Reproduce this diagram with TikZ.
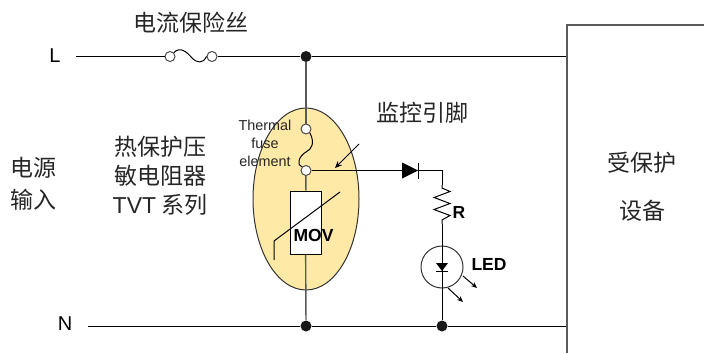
\documentclass[tikz,border=0pt]{standalone}
\usepackage{fontspec}
\setmainfont{Liberation Sans}
\newfontfamily\cjk{Noto Sans CJK SC}
\usepackage{tikz}
\usetikzlibrary{arrows.meta}
\definecolor{bodyyellow}{RGB}{255,233,166}
\begin{document}
\begin{tikzpicture}[x=1pt,y=-1pt,line width=1pt]
    \tikzstyle{junction}=[circle,fill=black!90,minimum size=11pt,inner sep=0pt]
    \tikzstyle{terminal}=[circle,draw=black!70,fill=white,minimum size=10pt,inner sep=0pt]
    \tikzstyle{wire}=[draw=black!65,line width=1.4pt]
    \tikzstyle{cjklabel}=[font=\cjk\fontsize{23}{25}\selectfont,inner sep=0pt,text=black!85]
    \tikzstyle{latinlabel}=[font=\fontsize{20}{22}\selectfont,inner sep=0pt]
    \tikzstyle{boldlabel}=[font=\bfseries\fontsize{17.5}{19}\selectfont,inner sep=0pt]
    \tikzstyle{smalllabel}=[font=\fontsize{14.4}{16}\selectfont,inner sep=0pt,text=black!85]
    \useasboundingbox (0,0) rectangle (704,353);

    % thermal varistor body
    \draw[fill=bodyyellow,draw=black!80] (306,199) ellipse (53 and 91);

    % coordinates of the wires
    \coordinate (L-in) at (76,56.5);
    \coordinate (L-out) at (567,56.5);
    \coordinate (N-in) at (88,326);
    \coordinate (N-out) at (567,326);
    \coordinate (Bend) at (442,170.5);
    \coordinate (R-top) at (442,185);
    \coordinate (R-bot) at (442,224);
    \coordinate (D-a) at (402,170.5);
    \coordinate (D-b) at (418,170.5);
    \node[junction] (J-L) at (306,56.5) {};
    \node[junction] (J-N) at (306,326) {};
    \node[junction] (J-R) at (442,326) {};
    \node[terminal] (F-a) at (170,56.5) {};
    \node[terminal] (F-b) at (212,56.5) {};
    \node[terminal] (T-a) at (306,129) {};
    \node[terminal] (T-b) at (306,170.5) {};
    \node[draw=black,fill=white,minimum width=31pt,minimum height=63pt,inner sep=0pt] (MOV-box) at (305.5,222.5) {};
    \node[circle,draw=black!80,minimum size=42pt,inner sep=0pt] (LED-c) at (442,267) {};

    % line and neutral
    \draw (L-in) -- (F-a);
    \draw (F-b) -- (J-L) -- (L-out);
    \draw (N-in) -- (J-N) -- (J-R) -- (N-out);

    % fuses
    \draw (F-a.north east) .. controls (180,46) and (187,52) .. (192,58)
        .. controls (197,63) and (203,64) .. (F-b.west);
    \draw (T-a.south east) .. controls (315,143) and (312,149) .. (306,152)
        .. controls (299,156) and (296,165) .. (T-b.north west);

    % vertical branch
    \draw[wire] (J-L) -- (T-a);
    \draw[wire] (T-b) -- (MOV-box);
    \draw[wire] (MOV-box) -- (J-N);

    % varistor slash
    \coordinate (S-a) at (274,260);
    \coordinate (S-b) at (274,241);
    \coordinate (S-c) at (340,192);
    \draw (S-a) -- (S-b) -- (S-c);

    % monitor branch
    \draw (T-b) -- (D-a);
    \fill (402,162.5) -- (418,170.5) -- (402,178.5) -- cycle;
    \draw (418,162.5) -- (418,178.5);
    \draw (D-b) -- (Bend) -- (R-top);
    \draw (R-top) -- (442,188) -- (450,191.5) -- (434,197.5) -- (450,203.5)
        -- (434,209.5) -- (450,215.5) -- (442,220) -- (R-bot);
    \draw (R-bot) -- (J-R);
    \fill (436,263) -- (448,263) -- (442,271) -- cycle;
    \draw (436,271) -- (448,271);

    % light and pointer arrows
    \draw[-{Stealth[length=6pt,width=5pt]}] (463,276) -- (477,288);
    \draw[-{Stealth[length=6pt,width=5pt]}] (448,288) -- (463,302);
    \draw[-{Stealth[length=7pt,width=6pt]}] (359,144) -- (335,168);

    % protected equipment
    \draw[draw=black!65,line width=1.3pt] (704,25) -- (567,25) -- (567,353);

    % labels
    \node[latinlabel] (L-text) at (55,56) {L};
    \node[latinlabel] (N-text) at (65,324) {N};
    \node[cjklabel] (fuse-text) at (191,23) {电流保险丝};
    \node[cjklabel] (src-a) at (33,168) {电源};
    \node[cjklabel] (src-b) at (33,200) {输入};
    \node[cjklabel] (tvt-a) at (160,147) {热保护压};
    \node[cjklabel] (tvt-b) at (160,176) {敏电阻器};
    \node[cjklabel] (tvt-c) at (160,205) {{\fontspec{Liberation Sans}TVT} 系列};
    \node[cjklabel] (pin-text) at (422,113) {监控引脚};
    \node[cjklabel] (dev-a) at (642,163) {受保护};
    \node[cjklabel] (dev-b) at (642,211) {设备};
    \node[smalllabel] (th-a) at (265,125) {Thermal};
    \node[smalllabel] (th-b) at (265,143) {fuse};
    \node[smalllabel] (th-c) at (265,161) {element};
    \node[boldlabel] (MOV-text) at (313.5,235) {MOV};
    \node[boldlabel] (R-text) at (459,212) {R};
    \node[boldlabel] (LED-text) at (489,264) {LED};
\end{tikzpicture}
\end{document}
